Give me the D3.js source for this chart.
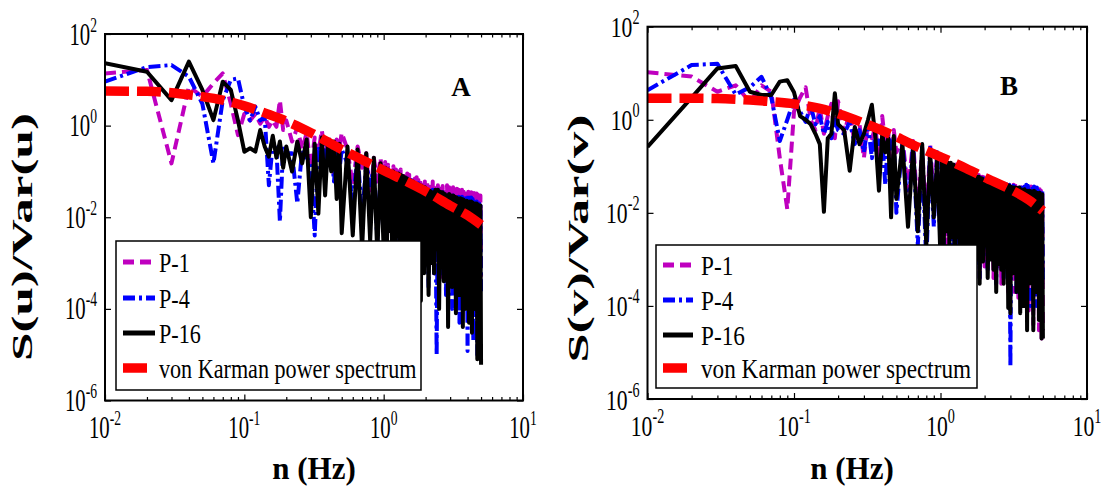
<!DOCTYPE html>
<html>
<head>
<meta charset="utf-8">
<script src="https://cdn.jsdelivr.net/npm/d3@7"></script>
<style>
  body { margin: 0; background: #fff; }
  svg { display: block; }
  text { font-family: "Liberation Serif", "Times New Roman", "DejaVu Serif", serif; fill: #000; }
</style>
</head>
<body>
<div id="chart"></div>
<script>
/* Normalised power spectra of u and v (log-log), two panels */

// frequency (Hz) shared by the measured spectra
const freq = [
  0.01, 0.02, 0.03, 0.04, 0.05, 0.06, 0.07, 0.08, 0.09, 0.10,
  0.11, 0.12, 0.13, 0.14, 0.15, 0.16, 0.17, 0.18, 0.19, 0.20,
  0.22, 0.24, 0.26, 0.28, 0.30, 0.32, 0.34, 0.36, 0.38, 0.40, 0.42, 0.44, 0.46, 0.48, 0.50,
  0.55, 0.60, 0.65, 0.70, 0.75, 0.80, 0.85, 0.90, 0.95, 1.00,
  1.025, 1.05, 1.075, 1.1, 1.125, 1.15, 1.175, 1.2, 1.225, 1.25,
  1.275, 1.3, 1.325, 1.35, 1.375, 1.4, 1.425, 1.45, 1.475, 1.5,
  1.525, 1.55, 1.575, 1.6, 1.625, 1.65, 1.675, 1.7, 1.725, 1.75,
  1.775, 1.8, 1.825, 1.85, 1.875, 1.9, 1.925, 1.95, 1.975, 2.0,
  2.05, 2.1, 2.15, 2.2, 2.25, 2.3, 2.35, 2.4, 2.45, 2.5,
  2.55, 2.6, 2.65, 2.7, 2.75, 2.8, 2.85, 2.9, 2.95, 3.0,
  3.05, 3.1, 3.15, 3.2, 3.25, 3.3, 3.35, 3.4, 3.45, 3.5,
  3.55, 3.6, 3.65, 3.7, 3.75, 3.8, 3.85, 3.9, 3.95, 4.0,
  4.05, 4.1, 4.15, 4.2, 4.25, 4.3, 4.35, 4.4, 4.45, 4.5,
  4.55, 4.6, 4.65, 4.7, 4.75, 4.8, 4.85, 4.9, 4.95, 5.0
];

// panel A : S(u)/Var(u)
const uP1 = [
  13.8, 16.4, 0.15, 7.1, 4.3, 8.4, 13.8, 3.0, 0.62, 1.8, 1.3, 1.8, 1.1, 1.56, 0.94, 1.3, 0.94, 3.6, 0.8, 1.3,
  0.45, 0.9, 0.3, 0.7, 0.12, 0.55, 0.25, 0.8, 0.2, 0.6, 0.35, 0.09, 0.5, 0.3, 0.7,
  0.3, 0.05, 0.35, 0.12, 0.25, 0.02, 0.2, 0.06, 0.2, 0.03,
  0.16, 0.006, 0.14, 0.004, 0.12, 0.02, 0.13, 0.008, 0.11, 0.006,
  0.1, 0.015, 0.11, 0.003, 0.095, 0.01, 0.08, 0.02, 0.09, 0.004,
  0.085, 0.012, 0.07, 0.006, 0.08, 0.01, 0.07, 0.0025, 0.075, 0.009,
  0.065, 0.004, 0.07, 0.008, 0.06, 0.002, 0.065, 0.01, 0.06, 0.005,
  0.06, 0.0008, 0.055, 0.004, 0.06, 0.0006, 0.055, 0.003, 0.05, 0.0015,
  0.05, 0.0005, 0.048, 0.002, 0.045, 0.0009, 0.05, 0.003, 0.045, 0.0004,
  0.042, 0.0015, 0.045, 0.0007, 0.04, 0.0003, 0.042, 0.002, 0.04, 0.0005,
  0.038, 0.001, 0.04, 0.003, 0.036, 0.0004, 0.038, 0.0012, 0.035, 0.0006,
  0.036, 0.002, 0.034, 0.0003, 0.035, 0.0009, 0.033, 0.0015, 0.034, 0.0004,
  0.032, 0.001, 0.033, 0.0005, 0.031, 0.002, 0.03, 0.0003, 0.03, 0.0005
];
const uP4 = [
  9.1, 19, 21, 11.7, 3.0, 0.15, 3.6, 10, 10.7, 2.6, 1.3, 2.6, 1.3, 1.56, 0.05, 0.4, 0.3, 0.008, 0.35, 0.25,
  0.25, 0.02, 0.3, 0.2, 0.15, 0.004, 0.35, 0.2, 0.4, 0.12, 0.3, 0.06, 0.35, 0.1, 0.3,
  0.15, 0.02, 0.25, 0.01, 0.15, 0.05, 0.12, 0.003, 0.1, 0.03,
  0.11, 0.002, 0.1, 0.008, 0.09, 0.01, 0.085, 0.0005, 0.09, 0.004,
  0.08, 0.003, 0.075, 0.0008, 0.07, 0.006, 0.065, 0.0015, 0.07, 0.003,
  0.06, 0.0002, 0.065, 0.004, 0.055, 0.002, 0.06, 0.0007, 0.05, 0.005,
  0.055, 0.0004, 0.05, 0.002, 0.045, 0.0009, 0.048, 0.003, 0.045, 0.001,
  0.04, 0.0003, 0.035, 0.001, 0.04, 0.0006, 0.035, 0.00001, 0.04, 0.0004,
  0.03, 0.0006, 0.035, 0.002, 0.032, 0.0002, 0.03, 0.0009, 0.028, 0.0004,
  0.025, 0.0001, 0.03, 0.0008, 0.028, 0.0005, 0.03, 0.0015, 0.028, 0.00005,
  0.025, 0.0005, 0.028, 0.0003, 0.025, 0.001, 0.026, 0.0002, 0.025, 0.000012,
  0.03, 0.0004, 0.025, 0.0001, 0.027, 0.0008, 0.025, 0.00002, 0.022, 0.0004,
  0.02, 0.0006, 0.022, 0.00001, 0.02, 0.0004, 0.02, 0.0001, 0.018, 0.0002
];
const uP16 = [
  22.9, 15, 3.6, 24.9, 6.0, 1.32, 9.1, 6.0, 1.3, 0.27, 0.32, 0.27, 0.8, 0.35, 0.21, 0.6, 0.2, 0.45, 0.12, 0.35,
  0.1, 0.45, 0.15, 0.5, 0.01, 0.4, 0.012, 0.55, 0.03, 0.5, 0.1, 0.45, 0.025, 0.4, 0.0045,
  0.35, 0.004, 0.3, 0.002, 0.25, 0.003, 0.2, 0.0015, 0.15, 0.002,
  0.12, 0.001, 0.11, 0.005, 0.1, 0.002, 0.1, 0.0008, 0.09, 0.004,
  0.09, 0.0007, 0.085, 0.003, 0.08, 0.0015, 0.075, 0.0005, 0.07, 0.003,
  0.065, 0.001, 0.06, 0.004, 0.06, 0.0003, 0.055, 0.002, 0.05, 0.0008,
  0.05, 0.003, 0.05, 0.00015, 0.048, 0.001, 0.045, 0.0006, 0.045, 0.002,
  0.04, 0.0002, 0.038, 0.001, 0.035, 0.0006, 0.04, 0.002, 0.04, 0.0001,
  0.036, 0.0008, 0.035, 0.0004, 0.032, 0.0015, 0.03, 0.00004, 0.032, 0.0005,
  0.03, 0.0003, 0.03, 0.001, 0.028, 0.00008, 0.027, 0.0006, 0.025, 0.0002,
  0.026, 0.0009, 0.025, 0.00004, 0.024, 0.0005, 0.022, 0.0001, 0.023, 0.0007,
  0.02, 0.00005, 0.022, 0.0004, 0.022, 0.00003, 0.021, 0.0006, 0.02, 0.0001,
  0.02, 0.0003, 0.02, 0.000008, 0.019, 0.0004, 0.018, 0.00005, 0.018, 0.000006
];

// panel B : S(v)/Var(v)
const vP1 = [
  10.5, 8.5, 4.0, 5.5, 2.4, 5.5, 4.0, 0.15, 0.012, 1.5, 3.0, 5.0, 1.0, 0.6, 1.8, 0.5, 1.2, 2.2, 0.4, 2.5,
  0.5, 1.5, 0.3, 0.8, 0.15, 0.9, 0.4, 0.7, 0.1, 1.2, 0.3, 0.5, 0.05, 0.6, 0.2,
  0.4, 0.03, 0.35, 0.01, 0.25, 0.005, 0.3, 0.02, 0.2, 0.006,
  0.15, 0.004, 0.14, 0.002, 0.12, 0.008, 0.12, 0.003, 0.1, 0.001,
  0.11, 0.006, 0.1, 0.004, 0.095, 0.0015, 0.09, 0.0008, 0.09, 0.005,
  0.08, 0.003, 0.08, 0.001, 0.075, 0.0006, 0.07, 0.004, 0.07, 0.002,
  0.065, 0.0009, 0.065, 0.0004, 0.06, 0.003, 0.06, 0.0015, 0.058, 0.0007,
  0.05, 0.0007, 0.05, 0.002, 0.048, 0.0004, 0.045, 0.001, 0.045, 0.0006,
  0.045, 0.0003, 0.042, 0.0008, 0.04, 0.0015, 0.04, 0.0002, 0.042, 0.0006,
  0.04, 0.0008, 0.04, 0.0002, 0.038, 0.0005, 0.035, 0.00015, 0.038, 0.0006,
  0.035, 0.0001, 0.035, 0.0004, 0.036, 0.0009, 0.035, 0.0003, 0.035, 0.00008,
  0.04, 0.0003, 0.037, 0.0006, 0.035, 0.00004, 0.036, 0.0002, 0.034, 0.0005,
  0.035, 0.0002, 0.033, 0.00003, 0.032, 0.0002, 0.03, 0.00002, 0.03, 0.00003
];
const vP4 = [
  4.3, 15, 16, 3.5, 5.0, 8.4, 3.0, 0.35, 1.0, 2.7, 1.5, 0.9, 2.0, 0.8, 1.2, 0.5, 0.9, 0.4, 1.0, 0.6,
  0.5, 0.9, 0.3, 0.6, 0.2, 0.8, 0.15, 0.5, 0.3, 0.4, 0.04, 0.5, 0.2, 0.4, 0.01,
  0.35, 0.01, 0.3, 0.002, 0.2, 0.0008, 0.25, 0.005, 0.2, 0.002,
  0.12, 0.001, 0.11, 0.004, 0.1, 0.003, 0.1, 0.0009, 0.1, 0.0006,
  0.095, 0.002, 0.09, 0.005, 0.085, 0.002, 0.08, 0.0009, 0.08, 0.004,
  0.08, 0.003, 0.075, 0.0012, 0.07, 0.0005, 0.068, 0.003, 0.065, 0.0015,
  0.062, 0.0007, 0.06, 0.0004, 0.058, 0.002, 0.055, 0.001, 0.055, 0.003,
  0.05, 0.0006, 0.048, 0.0015, 0.045, 0.001, 0.045, 0.0003, 0.044, 0.002,
  0.042, 0.0008, 0.04, 0.0004, 0.042, 0.0012, 0.04, 0.0003, 0.04, 0.000005,
  0.04, 0.0005, 0.038, 0.001, 0.035, 0.0002, 0.036, 0.0007, 0.035, 0.0008,
  0.035, 0.0003, 0.034, 0.0001, 0.037, 0.0006, 0.04, 0.0005, 0.038, 0.0009,
  0.035, 0.0001, 0.036, 0.0004, 0.04, 0.0003, 0.037, 0.0008, 0.035, 0.0001,
  0.035, 0.0005, 0.034, 0.0004, 0.032, 0.0009, 0.03, 0.0002, 0.03, 0.0003
];
const vP16 = [
  0.26, 3.0, 12.7, 14.3, 4.0, 3.4, 3.4, 6.6, 7.1, 3.9, 1.2, 1.0, 0.8, 0.5, 0.3, 0.0105, 0.4, 0.5, 3.7, 0.8,
  0.6, 0.08, 0.7, 0.3, 0.5, 1.0, 2.1, 0.4, 0.03, 0.5, 0.2, 0.4, 0.008, 0.45, 0.02,
  0.3, 0.005, 0.25, 0.004, 0.3, 0.002, 0.2, 0.008, 0.15, 0.001,
  0.15, 0.0012, 0.14, 0.004, 0.12, 0.002, 0.12, 0.003, 0.11, 0.0006,
  0.1, 0.003, 0.1, 0.001, 0.09, 0.002, 0.09, 0.0005, 0.085, 0.0008,
  0.08, 0.004, 0.075, 0.002, 0.07, 0.0012, 0.068, 0.0005, 0.065, 0.001,
  0.06, 0.003, 0.06, 0.0003, 0.056, 0.0015, 0.055, 0.0009, 0.05, 0.002,
  0.045, 0.0004, 0.044, 0.001, 0.04, 0.0006, 0.042, 0.0002, 0.045, 0.0008,
  0.04, 0.0006, 0.04, 0.0003, 0.038, 0.001, 0.04, 0.00009, 0.038, 0.00007,
  0.036, 0.0005, 0.035, 0.0009, 0.035, 0.0002, 0.034, 0.0004, 0.035, 0.00007,
  0.032, 0.0004, 0.03, 0.0001, 0.032, 0.0006, 0.03, 0.00003, 0.03, 0.0003,
  0.03, 0.0005, 0.029, 0.0003, 0.028, 0.00003, 0.03, 0.0008, 0.028, 0.0002,
  0.027, 0.0004, 0.026, 0.00005, 0.027, 0.0003, 0.025, 0.00002, 0.025, 0.00002
];

// von Karman reference spectra
const karmanFreq = [0.01, 0.02, 0.03, 0.04, 0.05, 0.07, 0.1, 0.15, 0.2, 0.3, 0.5, 0.7, 1, 1.5, 2, 3, 4, 5];
const uKarman = [5.7, 5.6, 5.2, 4.7, 4.3, 3.6, 2.7, 1.75, 1.25, 0.7, 0.3, 0.18, 0.105, 0.058, 0.037, 0.018, 0.011, 0.0068];
const vKarman = [2.9, 2.9, 2.85, 2.75, 2.65, 2.45, 2.2, 1.75, 1.35, 0.85, 0.43, 0.26, 0.16, 0.09, 0.058, 0.032, 0.019, 0.011];

const seriesNames = ["P-1", "P-4", "P-16", "von Karman power spectrum"];
const xMajor = [0.01, 0.1, 1, 10];
const xTickExps = ["-2", "-1", "0", "1"];
const yMajor = [1e2, 1, 1e-2, 1e-4, 1e-6];
const yTickExps = ["2", "0", "-2", "-4", "-6"];

[uP1, uP4, uP16, vP1, vP4, vP16].forEach(a => {
  if (a.length !== freq.length) throw new Error("series length " + a.length + " != " + freq.length);
});

const width = 1105, height = 489;
const serif = "'Liberation Serif', 'Times New Roman', 'DejaVu Serif', serif";

const styles = [
  { color: "#bf00bf", width: 4, dash: "11,6" },
  { color: "#0000ff", width: 4, dash: "12,4,3,4" },
  { color: "#000000", width: 4, dash: null },
  { color: "#ff0000", width: 9.5, dash: "24,8" }
];

const panels = [
  {
    id: "A", left: 105, right: 523, top: 34, bottom: 400.5,
    series: [uP1, uP4, uP16], karman: uKarman,
    ytitle: "S(u)/Var(u)", ytitleX: 32, ytitleY: 237,
    xtitleX: 314, letterX: 461, letterY: 96, sx: 0.68,
    legend: { x0: 116, x1: 421, y0: 241, y1: 390, rows: [262, 298, 333, 368], s0: 123, s1: 155, tx: 159, sx: 0.82 }
  },
  {
    id: "B", left: 647.5, right: 1087, top: 26.7, bottom: 399,
    series: [vP1, vP4, vP16], karman: vKarman,
    ytitle: "S(v)/Var(v)", ytitleX: 588, ytitleY: 238.5,
    xtitleX: 852, letterX: 1009, letterY: 95, sx: 0.71,
    legend: { x0: 656, x1: 977, y0: 245, y1: 388, rows: [265, 300, 335, 368], s0: 663, s1: 693, tx: 701, sx: 0.86 }
  }
];

const svg = d3.select("#chart")
  .append("svg")
  .attr("width", width)
  .attr("height", height)
  .attr("viewBox", [0, 0, width, height])
  .attr("font-family", serif);

svg.append("rect").attr("width", width).attr("height", height).attr("fill", "#fff");

function expLabel(g, x, y, anchor, exp, sx) {
  const t = g.append("g")
    .attr("transform", `translate(${x},${y}) scale(${sx},1)`)
    .append("text")
    .attr("text-anchor", anchor)
    .attr("font-size", 30.5);
  t.append("tspan").text("10");
  t.append("tspan").attr("dy", -13).attr("font-size", 20).text(exp);
}

panels.forEach((p, pi) => {
  const x = d3.scaleLog().domain([0.01, 10]).range([p.left, p.right]);
  const y = d3.scaleLog().domain([1e-6, 1e2]).range([p.bottom, p.top]);

  const clipId = "clip" + pi;
  svg.append("clipPath").attr("id", clipId)
    .append("rect")
    .attr("x", p.left).attr("y", p.top)
    .attr("width", p.right - p.left).attr("height", p.bottom - p.top);

  const plot = svg.append("g").attr("clip-path", `url(#${clipId})`);

  const line = d3.line().x(d => x(d[0])).y(d => y(d[1]));

  p.series.forEach((vals, i) => {
    const st = styles[i];
    plot.append("path")
      .datum(freq.map((f, j) => [f, vals[j]]))
      .attr("fill", "none")
      .attr("stroke", st.color)
      .attr("stroke-width", st.width)
      .attr("stroke-dasharray", st.dash)
      .attr("stroke-linejoin", "round")
      .attr("d", line);
  });

  const red = styles[3];
  plot.append("path")
    .datum(karmanFreq.map((f, j) => [f, p.karman[j]]))
    .attr("fill", "none")
    .attr("stroke", red.color)
    .attr("stroke-width", red.width)
    .attr("stroke-dasharray", red.dash)
    .attr("d", line.curve(d3.curveMonotoneX));

  // ticks, all pointing inwards
  const xMinor = x.ticks().filter(v => !xMajor.some(m => Math.abs(m - v) / m < 1e-6));
  const tickAxis = (axis, tx, ty) => svg.append("g")
    .attr("transform", `translate(${tx},${ty})`)
    .call(axis)
    .call(g => g.select(".domain").remove())
    .call(g => g.selectAll("text").remove())
    .call(g => g.selectAll("line").attr("stroke", "#000").attr("stroke-width", 1.2));

  tickAxis(d3.axisBottom(x).tickValues(xMajor).tickSize(-6), 0, p.bottom);
  tickAxis(d3.axisBottom(x).tickValues(xMinor).tickSize(-3.5), 0, p.bottom);
  tickAxis(d3.axisTop(x).tickValues(xMajor).tickSize(-6), 0, p.top);
  tickAxis(d3.axisTop(x).tickValues(xMinor).tickSize(-3.5), 0, p.top);
  tickAxis(d3.axisLeft(y).tickValues(yMajor).tickSize(-6), p.left, 0);
  tickAxis(d3.axisRight(y).tickValues(yMajor).tickSize(-6), p.right, 0);

  svg.append("rect")
    .attr("x", p.left).attr("y", p.top)
    .attr("width", p.right - p.left).attr("height", p.bottom - p.top)
    .attr("fill", "none")
    .attr("stroke", "#000")
    .attr("stroke-width", 2);

  // tick labels
  const labels = svg.append("g");
  xMajor.forEach((v, i) => expLabel(labels, x(v), p.bottom + 37, "middle", xTickExps[i], p.sx));
  yMajor.forEach((v, i) => expLabel(labels, p.left - 8, y(v) + 10.5, "end", yTickExps[i], p.sx));

  // axis titles
  svg.append("text")
    .attr("x", p.xtitleX)
    .attr("y", 479)
    .attr("text-anchor", "middle")
    .attr("font-size", 31)
    .attr("font-weight", "bold")
    .text("n (Hz)");

  svg.append("text")
    .attr("transform", `translate(${p.ytitleX},${p.ytitleY}) rotate(-90)`)
    .attr("text-anchor", "middle")
    .attr("font-size", 29)
    .attr("font-weight", "bold")
    .attr("textLength", 248)
    .attr("lengthAdjust", "spacingAndGlyphs")
    .text(p.ytitle);

  svg.append("text")
    .attr("x", p.letterX)
    .attr("y", p.letterY)
    .attr("text-anchor", "middle")
    .attr("font-size", 27)
    .attr("font-weight", "bold")
    .text(p.id);

  // legend
  const lg = p.legend;
  const leg = svg.append("g");
  leg.append("rect")
    .attr("x", lg.x0).attr("y", lg.y0)
    .attr("width", lg.x1 - lg.x0).attr("height", lg.y1 - lg.y0)
    .attr("fill", "#fff")
    .attr("stroke", "#000")
    .attr("stroke-width", 1.5);

  seriesNames.forEach((name, i) => {
    const st = styles[i];
    const ry = lg.rows[i];
    leg.append("line")
      .attr("x1", lg.s0).attr("x2", lg.s1)
      .attr("y1", ry).attr("y2", ry)
      .attr("stroke", st.color)
      .attr("stroke-width", i === 3 ? 9.5 : 5)
      .attr("stroke-dasharray", st.dash);
    leg.append("g")
      .attr("transform", `translate(${lg.tx},${ry + 10}) scale(${lg.sx},1)`)
      .append("text")
      .attr("font-size", 27)
      .text(name);
  });
});
</script>
</body>
</html>
